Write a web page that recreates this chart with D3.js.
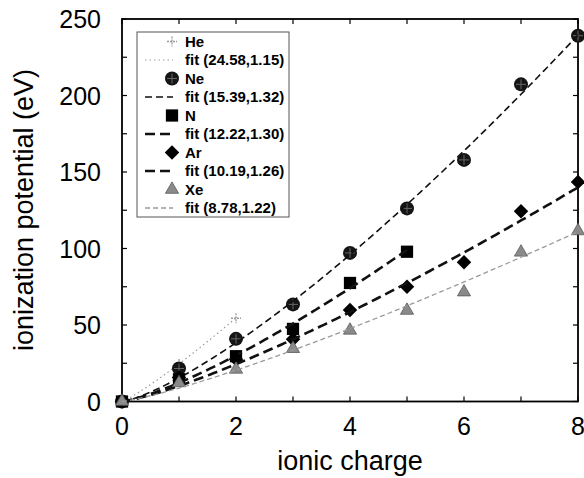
<!DOCTYPE html>
<html>
<head>
<meta charset="utf-8">
<script src="https://cdn.jsdelivr.net/npm/d3@7"></script>
<style>
  html, body { margin: 0; padding: 0; background: #fff; }
  svg { display: block; font-family: 'Liberation Sans', Arial, Helvetica, sans-serif; }
</style>
</head>
<body>
<div id="chart"></div>
<script>
// measured ionization potentials (eV) per ionic charge
const charges = [0, 1, 2, 3, 4, 5, 6, 7, 8]
const heValues = [0, 24.59, 54.42]
const neValues = [0, 21.56, 40.96, 63.45, 97.12, 126.2, 157.9, 207.3, 239.1]
const nValues = [0, 14.53, 29.60, 47.45, 77.47, 97.89]
const arValues = [0, 15.76, 27.63, 40.74, 59.81, 75.02, 91.01, 124.3, 143.5]
const xeValues = [0, 12.13, 21.0, 34.5, 46.5, 59.5, 71.5, 97.5, 111.5]

// fit parameters (a, b) of a * q^b, as printed in the legend
const fitA = [24.58, 15.39, 12.22, 10.19, 8.78]
const fitB = [1.15, 1.32, 1.30, 1.26, 1.22]
const fitMaxCharge = [2, 8, 5, 8, 8]

const seriesNames = ['He', 'Ne', 'N', 'Ar', 'Xe']
const xTicks = [0, 2, 4, 6, 8]
const yTicks = [0, 50, 100, 150, 200, 250]

const SIZE = Object.freeze({ WIDTH: 584, HEIGHT: 478 })
const FRAME = Object.freeze({ LEFT: 122, RIGHT: 578, TOP: 19, BOTTOM: 401.5 })

const seriesValues = [heValues, neValues, nValues, arValues, xeValues]

const markerStyles = [
  { type: 'plus' },
  { type: 'ne' },
  { type: 'square' },
  { type: 'diamond' },
  { type: 'triangle' },
]
const lineStyles = [
  { stroke: '#9a9a9a', width: 1.2, dash: '1.5,3' },
  { stroke: '#111', width: 1.6, dash: '7,4' },
  { stroke: '#111', width: 2.6, dash: '10,5' },
  { stroke: '#111', width: 2.6, dash: '10,5' },
  { stroke: '#9a9a9a', width: 1.3, dash: '5,3' },
]

const svg = d3.select('#chart')
  .append('svg')
  .attr('width', SIZE.WIDTH)
  .attr('height', SIZE.HEIGHT)

const xScale = d3.scaleLinear().domain([0, 8]).range([FRAME.LEFT, FRAME.RIGHT])
const yScale = d3.scaleLinear().domain([0, 250]).range([FRAME.BOTTOM, FRAME.TOP])

const drawMarker = (g, style, x, y) => {
  if (style.type === 'plus') {
    g.append('path')
      .attr('d', `M${x - 5},${y}H${x + 5}M${x},${y - 5}V${y + 5}`)
      .attr('fill', 'none')
      .attr('stroke', '#999')
      .attr('stroke-width', 1.3)
      .attr('stroke-dasharray', '2,1')
  } else if (style.type === 'ne') {
    g.append('circle')
      .attr('cx', x).attr('cy', y).attr('r', 7)
      .attr('fill', '#151515')
    g.append('path')
      .attr('d', `M${x - 5},${y}H${x + 5}M${x},${y - 5}V${y + 5}`)
      .attr('stroke', '#666')
      .attr('stroke-width', 1)
  } else if (style.type === 'square') {
    g.append('path')
      .attr('d', d3.symbol(d3.symbolSquare, 150)())
      .attr('transform', `translate(${x},${y})`)
      .attr('fill', '#000')
  } else if (style.type === 'diamond') {
    g.append('path')
      .attr('d', d3.symbol(d3.symbolSquare, 105)())
      .attr('transform', `translate(${x},${y}) rotate(45)`)
      .attr('fill', '#000')
  } else {
    g.append('path')
      .attr('d', d3.symbol(d3.symbolTriangle, 75)())
      .attr('transform', `translate(${x},${y})`)
      .attr('fill', '#8a8a8a')
      .attr('stroke', '#5a5a5a')
      .attr('stroke-width', 0.8)
  }
}

// frame with inward ticks on all sides
const axisG = svg.append('g')
const xMinor = d3.range(0, 9, 1)
const yMinor = d3.range(0, 251, 25)

axisG.selectAll('.xtb')
  .data(xMinor)
  .enter()
  .append('line')
  .attr('x1', d => xScale(d)).attr('x2', d => xScale(d))
  .attr('y1', FRAME.BOTTOM).attr('y2', FRAME.BOTTOM - 5)
axisG.selectAll('.xtt')
  .data(xMinor)
  .enter()
  .append('line')
  .attr('x1', d => xScale(d)).attr('x2', d => xScale(d))
  .attr('y1', FRAME.TOP).attr('y2', FRAME.TOP + 5)
axisG.selectAll('.ytl')
  .data(yMinor)
  .enter()
  .append('line')
  .attr('y1', d => yScale(d)).attr('y2', d => yScale(d))
  .attr('x1', FRAME.LEFT).attr('x2', FRAME.LEFT + 5)
axisG.selectAll('.ytr')
  .data(yMinor)
  .enter()
  .append('line')
  .attr('y1', d => yScale(d)).attr('y2', d => yScale(d))
  .attr('x1', FRAME.RIGHT).attr('x2', FRAME.RIGHT - 5)
axisG.selectAll('line')
  .attr('stroke', '#000')
  .attr('stroke-width', 1.2)

axisG.append('rect')
  .attr('x', FRAME.LEFT)
  .attr('y', FRAME.TOP)
  .attr('width', FRAME.RIGHT - FRAME.LEFT)
  .attr('height', FRAME.BOTTOM - FRAME.TOP)
  .attr('fill', 'none')
  .attr('stroke', '#000')
  .attr('stroke-width', 1.8)

svg.append('g')
  .selectAll('text')
  .data(xTicks)
  .enter()
  .append('text')
  .attr('x', d => xScale(d))
  .attr('y', 435)
  .attr('text-anchor', 'middle')
  .style('font-size', '25px')
  .text(d => d)

svg.append('g')
  .selectAll('text')
  .data(yTicks)
  .enter()
  .append('text')
  .attr('x', 101)
  .attr('y', d => yScale(d) + 9)
  .attr('text-anchor', 'end')
  .style('font-size', '25px')
  .text(d => d)

svg.append('text')
  .attr('x', (FRAME.LEFT + FRAME.RIGHT) / 2)
  .attr('y', 470)
  .attr('text-anchor', 'middle')
  .style('font-size', '27px')
  .text('ionic charge')

svg.append('text')
  .attr('transform', 'translate(33,210) rotate(-90)')
  .attr('text-anchor', 'middle')
  .style('font-size', '27px')
  .text('ionization potential (eV)')

// legend
const legend = svg.append('g')
legend.append('rect')
  .attr('x', 137)
  .attr('y', 32)
  .attr('width', 152)
  .attr('height', 185)
  .attr('fill', '#fff')
  .attr('stroke', '#555')
  .attr('stroke-width', 1)

const ROW_Y0 = 41.5
const ROW_STEP = 18.5
seriesNames.forEach((name, i) => {
  const yData = ROW_Y0 + ROW_STEP * 2 * i
  const yFit = yData + ROW_STEP
  drawMarker(legend, markerStyles[i], 172, yData)
  legend.append('text')
    .attr('x', 185).attr('y', yData + 5)
    .style('font-size', '15px').style('font-weight', 'bold')
    .text(name)
  legend.append('line')
    .attr('x1', 145).attr('x2', 173)
    .attr('y1', yFit).attr('y2', yFit)
    .attr('stroke', lineStyles[i].stroke)
    .attr('stroke-width', lineStyles[i].width)
    .attr('stroke-dasharray', lineStyles[i].dash)
  legend.append('text')
    .attr('x', 185).attr('y', yFit + 5)
    .style('font-size', '15px').style('font-weight', 'bold')
    .text(`fit (${fitA[i].toFixed(2)},${fitB[i].toFixed(2)})`)
})

// data points and fit curves
const plot = svg.append('g')
const line = d3.line()
  .x(d => xScale(d[0]))
  .y(d => yScale(d[1]))
  .curve(d3.curveLinear)

seriesNames.forEach((name, i) => {
  const values = seriesValues[i]
  const pointsG = plot.append('g')
  values.forEach((v, k) => {
    drawMarker(pointsG, markerStyles[i], xScale(charges[k]), yScale(v))
  })
  const fitPoints = d3.range(0, fitMaxCharge[i] + 0.001, 0.05)
    .map(q => [q, fitA[i] * Math.pow(q, fitB[i])])
  plot.append('path')
    .datum(fitPoints)
    .attr('d', line)
    .attr('fill', 'none')
    .attr('stroke', lineStyles[i].stroke)
    .attr('stroke-width', lineStyles[i].width)
    .attr('stroke-dasharray', lineStyles[i].dash)
})
</script>
</body>
</html>
